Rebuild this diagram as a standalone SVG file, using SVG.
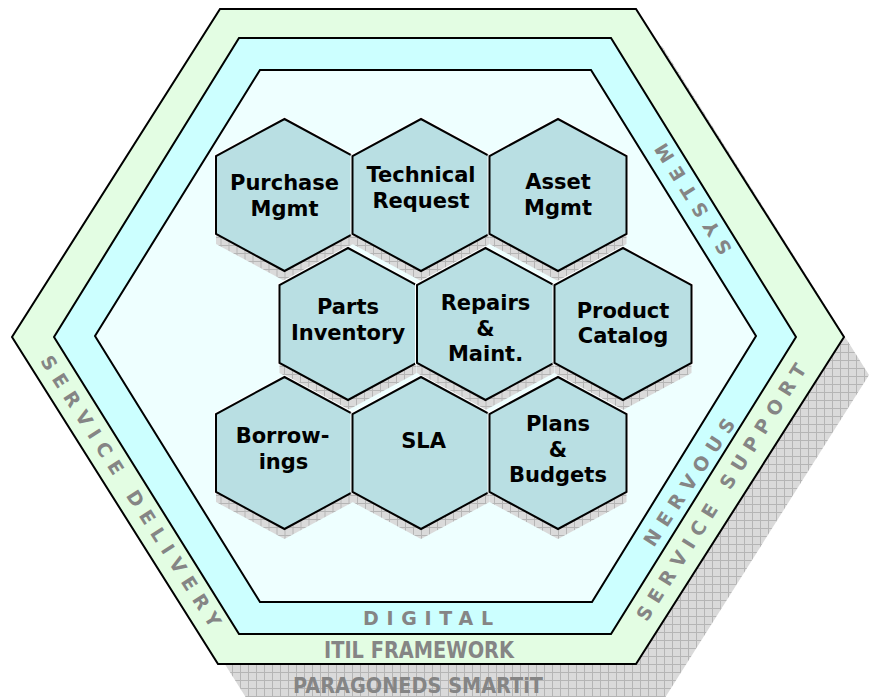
<svg xmlns="http://www.w3.org/2000/svg" xmlns:xlink="http://www.w3.org/1999/xlink" width="871" height="697" viewBox="0 0 871 697">
  <defs>
    <!-- cross-hatched drop shadow fill -->
    <pattern id="grid" width="8" height="8" patternUnits="userSpaceOnUse">
      <rect width="8" height="8" fill="#dadada"/>
      <path d="M0 0.5H8M0.5 0V8" stroke="#b5b5b5" stroke-width="1"/>
    </pattern>
    <!-- module cell, centred on its own origin -->
    <polygon id="hex" points="0,-76 68.5,-39 68.5,39 0,76 -68.5,39 -68.5,-39"/>
    <style>
      .ring { stroke: #000; stroke-width: 2; stroke-linejoin: miter; }
      .outer { fill: #e3fde3; }
      .mid { fill: #ccffff; }
      .inner { fill: #eeffff; }
      .halo { fill: none; stroke: #fff; stroke-width: 4; }
      .cshadow { fill: url(#grid); }
      .cell { fill: #b9dfe3; stroke: #000; stroke-width: 2; stroke-linejoin: miter; }
      .lbl { font-family: "DejaVu Sans", Verdana, sans-serif; font-weight: bold; font-size: 21px; fill: #000; text-anchor: middle; }
      .band { font-family: "DejaVu Sans", Verdana, sans-serif; font-weight: bold; fill: #858585; }
    </style>
  </defs>

  <!-- frame: shadow and three nested rings -->
  <g id="frame">
    <polygon points="43,375 246,46 662,46 869,375 656,712 255,712" fill="url(#grid)"/>
    <polygon class="ring outer" points="220,9 636,9 844,337 636,664 218,664 12,337"/>
    <polygon class="ring mid" points="239,38 611,38 796,337 611,634 239,634 54,337"/>
    <polygon class="ring inner" points="260,70 591,70 756,336 592,602 260,602 95,336"/>
  </g>

  <!-- ring captions -->
  <g id="captions">
    <g transform="translate(131,491) rotate(57.5)">
      <text class="band" x="-159" y="7" font-size="19" textLength="318" lengthAdjust="spacing">SERVICE DELIVERY</text>
    </g>
    <g transform="translate(721,492) rotate(-57.7)">
      <text class="band" x="-150" y="7" font-size="19" textLength="300" lengthAdjust="spacing">SERVICE SUPPORT</text>
    </g>
    <g transform="translate(689,482) rotate(-56.5)">
      <text class="band" x="-74.5" y="7" font-size="19" textLength="149" lengthAdjust="spacing">NERVOUS</text>
    </g>
    <g transform="translate(693,199) rotate(-122)">
      <text class="band" x="-63.5" y="7" font-size="19" textLength="127" lengthAdjust="spacing">SYSTEM</text>
    </g>
    <text class="band" x="363" y="625" font-size="19" textLength="130" lengthAdjust="spacing">DIGITAL</text>
    <text class="band" x="324" y="658" font-size="23" textLength="190" lengthAdjust="spacingAndGlyphs">ITIL FRAMEWORK</text>
    <text class="band" x="293" y="693" font-size="22" textLength="250" lengthAdjust="spacingAndGlyphs">PARAGONEDS SMARTiT</text>
  </g>

  <!-- row 1 -->
  <g id="purchase-mgmt" transform="translate(284.5,195)">
    <use xlink:href="#hex" class="halo"/>
    <use xlink:href="#hex" class="cshadow" y="10"/>
    <use xlink:href="#hex" class="cell"/>
    <text class="lbl"><tspan x="0" y="-5">Purchase</tspan><tspan x="0" y="20.5">Mgmt</tspan></text>
  </g>
  <g id="technical-request" transform="translate(421,195)">
    <use xlink:href="#hex" class="halo"/>
    <use xlink:href="#hex" class="cshadow" y="10"/>
    <use xlink:href="#hex" class="cell"/>
    <text class="lbl"><tspan x="0" y="-13">Technical</tspan><tspan x="0" y="12.5">Request</tspan></text>
  </g>
  <g id="asset-mgmt" transform="translate(558,195)">
    <use xlink:href="#hex" class="halo"/>
    <use xlink:href="#hex" class="cshadow" y="10"/>
    <use xlink:href="#hex" class="cell"/>
    <text class="lbl"><tspan x="0" y="-6">Asset</tspan><tspan x="0" y="20">Mgmt</tspan></text>
  </g>

  <!-- row 2 -->
  <g id="parts-inventory" transform="translate(348,324)">
    <use xlink:href="#hex" class="halo"/>
    <use xlink:href="#hex" class="cshadow" y="10"/>
    <use xlink:href="#hex" class="cell"/>
    <text class="lbl"><tspan x="0" y="-10.5">Parts</tspan><tspan x="0" y="16">Inventory</tspan></text>
  </g>
  <g id="repairs-maint" transform="translate(485.5,324)">
    <use xlink:href="#hex" class="halo"/>
    <use xlink:href="#hex" class="cshadow" y="10"/>
    <use xlink:href="#hex" class="cell"/>
    <text class="lbl"><tspan x="0" y="-14">Repairs</tspan><tspan x="0" y="12">&amp;</tspan><tspan x="0" y="37">Maint.</tspan></text>
  </g>
  <g id="product-catalog" transform="translate(623,324)">
    <use xlink:href="#hex" class="halo"/>
    <use xlink:href="#hex" class="cshadow" y="10"/>
    <use xlink:href="#hex" class="cell"/>
    <text class="lbl"><tspan x="0" y="-6">Product</tspan><tspan x="0" y="19">Catalog</tspan></text>
  </g>

  <!-- row 3 -->
  <g id="borrowings" transform="translate(284.5,453)">
    <use xlink:href="#hex" class="halo"/>
    <use xlink:href="#hex" class="cshadow" y="10"/>
    <use xlink:href="#hex" class="cell"/>
    <text class="lbl"><tspan x="-2" y="-10">Borrow-</tspan><tspan x="-1" y="16">ings</tspan></text>
  </g>
  <g id="sla" transform="translate(421,453)">
    <use xlink:href="#hex" class="halo"/>
    <use xlink:href="#hex" class="cshadow" y="10"/>
    <use xlink:href="#hex" class="cell"/>
    <text class="lbl"><tspan x="2.5" y="-5">SLA</tspan></text>
  </g>
  <g id="plans-budgets" transform="translate(558,453)">
    <use xlink:href="#hex" class="halo"/>
    <use xlink:href="#hex" class="cshadow" y="10"/>
    <use xlink:href="#hex" class="cell"/>
    <text class="lbl"><tspan x="0" y="-22">Plans</tspan><tspan x="0" y="4">&amp;</tspan><tspan x="0" y="29">Budgets</tspan></text>
  </g>

  <!-- no connectors in this diagram -->
  <g id="connectors"/>
</svg>
